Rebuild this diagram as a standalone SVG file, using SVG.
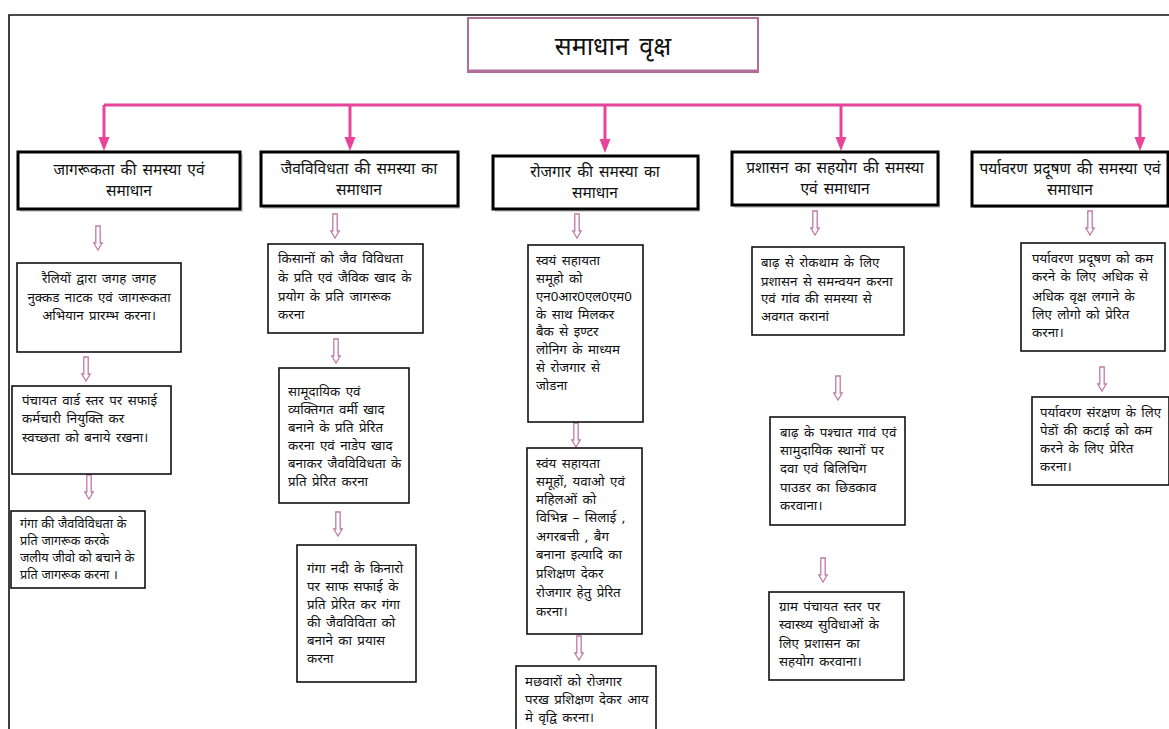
<svg xmlns="http://www.w3.org/2000/svg" width="1169" height="729" viewBox="0 0 1169 729">
  <style>
    text { font-family: "Noto Sans", "Liberation Sans", sans-serif; fill: #111; word-spacing: 2px; }
    .head { font-size: 15.5px; text-anchor: middle; }
    .body { font-size: 13.3px; }
    .tight { font-size: 12.6px; word-spacing: 0.5px; }
    .mid { text-anchor: middle; }
    .title { font-size: 25px; text-anchor: middle; word-spacing: 4px; }
    .box { fill: #fff; stroke: #111; stroke-width: 1.6; }
    .hbox { fill: #fff; stroke: #000; stroke-width: 3; }
    .shadow { fill: #9a9a9a; opacity: 0.45; }
    .trunk { fill: none; stroke: #e8449a; stroke-width: 3; }
    .hollow { fill: #fff; stroke: #c07aa6; stroke-width: 1.3; }
    .frame { fill: none; stroke: #111; stroke-width: 1.6; }
  </style>
  <defs>
    <!-- hollow down arrow, top centre at origin -->
    <path id="down" class="hollow" d="M-2.2,0 H2.2 V17 H4.2 L0,24 L-4.2,17 H-2.2 Z"/>
  </defs>

  <rect width="1169" height="729" fill="#fff"/>
  <path class="frame" d="M9,729 V15 H1169"/>

  <!-- title -->
  <g id="title">
    <rect x="468" y="18" width="290" height="54" fill="#fff" stroke="#b26d9a" stroke-width="2"/>
    <line x1="468" y1="71" x2="758" y2="71" stroke="#b26d9a" stroke-width="3"/>
    <text class="title" x="613" y="55">समाधान वृक्ष</text>
  </g>

  <g id="connectors">
    <path class="trunk" d="M104,105 H1140"/>
    <g stroke="#e8449a" stroke-width="3">
      <line x1="104" y1="105" x2="104" y2="139"/>
      <line x1="350" y1="105" x2="350" y2="139"/>
      <line x1="605" y1="105" x2="605" y2="141"/>
      <line x1="841" y1="105" x2="841" y2="139"/>
      <line x1="1140" y1="105" x2="1140" y2="139"/>
    </g>
    <g fill="#e8449a">
      <path d="M98.5,137 H109.5 L104,151 Z"/>
      <path d="M344.5,137 H355.5 L350,151 Z"/>
      <path d="M599.5,139 H610.5 L605,153 Z"/>
      <path d="M835.5,137 H846.5 L841,151 Z"/>
      <path d="M1134.5,137 H1145.5 L1140,151 Z"/>
    </g>
    <!-- hollow step arrows -->
    <use href="#down" x="98" y="226"/>
    <use href="#down" x="86" y="357"/>
    <use href="#down" x="89" y="475"/>
    <use href="#down" x="335" y="214"/>
    <use href="#down" x="336" y="339"/>
    <use href="#down" x="338" y="512"/>
    <use href="#down" x="577" y="214"/>
    <use href="#down" x="576" y="423"/>
    <use href="#down" x="579" y="636"/>
    <use href="#down" x="815" y="211"/>
    <use href="#down" x="838" y="376"/>
    <use href="#down" x="823" y="558"/>
    <use href="#down" x="1090" y="211"/>
    <use href="#down" x="1102" y="367"/>
  </g>

  <!-- column 1 -->
  <g id="h1">
    <rect class="shadow" x="20" y="154" width="223" height="58"/>
    <rect class="hbox" x="18" y="152" width="222" height="57"/>
    <text class="head" x="129" y="175">जागरूकता की समस्या एवं</text>
    <text class="head" x="129" y="196">समाधान</text>
  </g>
  <g id="c1a">
    <rect class="box" x="17" y="263" width="164" height="89"/>
    <text class="body mid" x="99" y="283">रैलियों द्वारा जगह जगह</text>
    <text class="body mid" x="99" y="302">नुक्कड नाटक एवं जागरूकता</text>
    <text class="body mid" x="99" y="320">अभियान प्रारम्भ करना।</text>
  </g>
  <g id="c1b">
    <rect class="box" x="12" y="386" width="159" height="88"/>
    <text class="body" x="22" y="405">पंचायत वार्ड स्तर पर सफाई</text>
    <text class="body" x="22" y="423">कर्मचारी नियुक्ति कर</text>
    <text class="body" x="22" y="442">स्वच्छता को बनाये रखना।</text>
  </g>
  <g id="c1c">
    <rect class="box" x="11" y="511" width="134" height="77"/>
    <text class="tight" x="20" y="528">गंगा की जैवविविधता के</text>
    <text class="tight" x="20" y="545">प्रति जागरूक करके</text>
    <text class="tight" x="20" y="562">जलीय जीवो को बचाने के</text>
    <text class="tight" x="20" y="579">प्रति जागरूक करना ।</text>
  </g>

  <!-- column 2 -->
  <g id="h2">
    <rect class="shadow" x="263" y="154" width="197" height="55"/>
    <rect class="hbox" x="261" y="152" width="197" height="54"/>
    <text class="head" x="359" y="174">जैवविविधता की समस्या का</text>
    <text class="head" x="359" y="195">समाधान</text>
  </g>
  <g id="c2a">
    <rect class="box" x="268" y="244" width="155" height="89"/>
    <text class="body" x="278" y="263">किसानों को जैव विविधता</text>
    <text class="body" x="278" y="282">के प्रति एवं जैविक खाद के</text>
    <text class="body" x="278" y="301">प्रयोग के प्रति जागरूक</text>
    <text class="body" x="278" y="319">करना</text>
  </g>
  <g id="c2b">
    <rect class="box" x="279" y="368" width="130" height="135"/>
    <text class="body" x="288" y="396">सामूदायिक एवं</text>
    <text class="body" x="288" y="414">व्यक्तिगत वर्मी खाद</text>
    <text class="body" x="288" y="432">बनाने के प्रति प्रेरित</text>
    <text class="body" x="288" y="450">करना एवं नाडेप खाद</text>
    <text class="body" x="288" y="468">बनाकर जैवविविधता के</text>
    <text class="body" x="288" y="486">प्रति प्रेरित करना</text>
  </g>
  <g id="c2c">
    <rect class="box" x="297" y="545" width="119" height="137"/>
    <text class="body" x="307" y="573">गंगा नदी के किनारो</text>
    <text class="body" x="307" y="591">पर साफ सफाई के</text>
    <text class="body" x="307" y="609">प्रति प्रेरित कर गंगा</text>
    <text class="body" x="307" y="627">की जैवविविता को</text>
    <text class="body" x="307" y="645">बनाने का प्रयास</text>
    <text class="body" x="307" y="663">करना</text>
  </g>

  <!-- column 3 -->
  <g id="h3">
    <rect class="shadow" x="495" y="158" width="205" height="54"/>
    <rect class="hbox" x="493" y="156" width="205" height="53"/>
    <text class="head" x="595" y="177">रोजगार की समस्या का</text>
    <text class="head" x="595" y="198">समाधान</text>
  </g>
  <g id="c3a">
    <rect class="box" x="528" y="245" width="115" height="177"/>
    <text class="body" x="536" y="265">स्वयं सहायता</text>
    <text class="body" x="536" y="283">समूहो को</text>
    <text class="body" x="536" y="301">एन0आर0एल0एम0</text>
    <text class="body" x="536" y="319">के साथ मिलकर</text>
    <text class="body" x="536" y="336">बैक से इण्टर</text>
    <text class="body" x="536" y="354">लोनिग के माध्यम</text>
    <text class="body" x="536" y="372">से रोजगार से</text>
    <text class="body" x="536" y="390">जोडना</text>
  </g>
  <g id="c3b">
    <rect class="box" x="527" y="448" width="115" height="186"/>
    <text class="body" x="536" y="468">स्वंय सहायता</text>
    <text class="body" x="536" y="486">समूहों, यवाओ एवं</text>
    <text class="body" x="536" y="504">महिलओं को</text>
    <text class="body" x="536" y="522">विभिन्न – सिलाई ,</text>
    <text class="body" x="536" y="541">अगरबत्ती , बैग</text>
    <text class="body" x="536" y="559">बनाना इत्यादि का</text>
    <text class="body" x="536" y="578">प्रशिक्षण देकर</text>
    <text class="body" x="536" y="597">रोजगार हेतु प्रेरित</text>
    <text class="body" x="536" y="616">करना।</text>
  </g>
  <g id="c3c">
    <rect class="box" x="516" y="666" width="140" height="70"/>
    <text class="body" x="525" y="686">मछवारों को रोजगार</text>
    <text class="body" x="525" y="704">परख प्रशिक्षण देकर आय</text>
    <text class="body" x="525" y="722">मे वृद्वि करना।</text>
  </g>

  <!-- column 4 -->
  <g id="h4">
    <rect class="shadow" x="734" y="154" width="206" height="54"/>
    <rect class="hbox" x="732" y="152" width="206" height="53"/>
    <text class="head" x="835" y="173">प्रशासन का सहयोग की समस्या</text>
    <text class="head" x="835" y="194">एवं समाधान</text>
  </g>
  <g id="c4a">
    <rect class="box" x="752" y="247" width="152" height="88"/>
    <text class="body" x="761" y="267">बाढ़ से रोकथाम के लिए</text>
    <text class="body" x="761" y="286">प्रशासन से समन्वयन करना</text>
    <text class="body" x="761" y="303">एवं गांव की समस्या से</text>
    <text class="body" x="761" y="321">अवगत करानां</text>
  </g>
  <g id="c4b">
    <rect class="box" x="770" y="417" width="135" height="108"/>
    <text class="body" x="780" y="437">बाढ़ के पश्चात गावं एवं</text>
    <text class="body" x="780" y="455">सामुदायिक स्थानों पर</text>
    <text class="body" x="780" y="473">दवा एवं बिलिचिग</text>
    <text class="body" x="780" y="492">पाउडर का छिडकाव</text>
    <text class="body" x="780" y="510">करवाना।</text>
  </g>
  <g id="c4c">
    <rect class="box" x="769" y="592" width="135" height="88"/>
    <text class="body" x="779" y="611">ग्राम पंचायत स्तर पर</text>
    <text class="body" x="779" y="629">स्वास्थ्य सुविधाओं के</text>
    <text class="body" x="779" y="648">लिए प्रशासन का</text>
    <text class="body" x="779" y="666">सहयोग करवाना।</text>
  </g>

  <!-- column 5 -->
  <g id="h5">
    <rect class="shadow" x="974" y="154" width="197" height="54"/>
    <rect class="hbox" x="972" y="152" width="196" height="54"/>
    <text class="head" x="1070" y="174">पर्यावरण प्रदूषण की समस्या एवं</text>
    <text class="head" x="1070" y="195">समाधान</text>
  </g>
  <g id="c5a">
    <rect class="box" x="1021" y="243" width="144" height="108"/>
    <text class="body" x="1032" y="263">पर्यावरण प्रदूषण को कम</text>
    <text class="body" x="1032" y="281">करने के लिए अधिक से</text>
    <text class="body" x="1032" y="301">अधिक वृक्ष लगाने के</text>
    <text class="body" x="1032" y="319">लिए लोगो को प्रेरित</text>
    <text class="body" x="1032" y="337">करना।</text>
  </g>
  <g id="c5b">
    <rect class="box" x="1032" y="397" width="137" height="88"/>
    <text class="body" x="1040" y="417">पर्यावरण संरक्षण के लिए</text>
    <text class="body" x="1040" y="435">पेडों की कटाई को कम</text>
    <text class="body" x="1040" y="453">करने के लिए प्रेरित</text>
    <text class="body" x="1040" y="471">करना।</text>
  </g>
</svg>
